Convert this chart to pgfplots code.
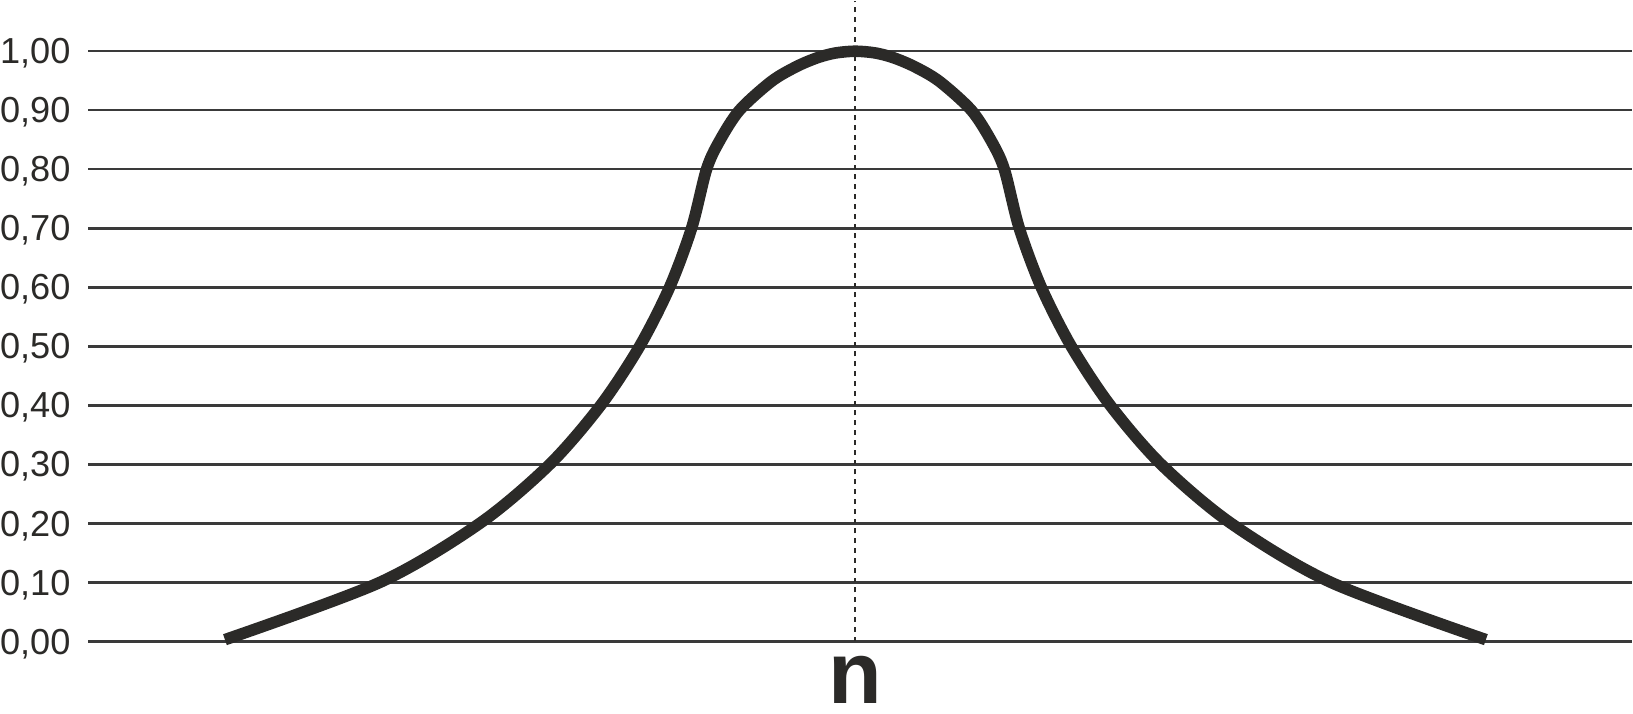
\documentclass[border=0pt]{standalone}
\usepackage{fontspec}
\setmainfont{Liberation Sans}
\usepackage{pgfplots}
\pgfplotsset{compat=1.18}
\definecolor{ink}{HTML}{2B2A28}
\definecolor{gridc}{HTML}{3A3A3A}

\begin{document}
\begin{tikzpicture}
\begin{axis}[
    scale only axis,
    width=154.5mm,
    height=71.3mm,
    xmin=-768, xmax=777,
    ymin=-0.122, ymax=1.085,
    clip=false,
    axis line style={draw=none},
    major tick length=0pt,
    xtick=\empty,
    ytick={0,0.1,...,1.0},
    ymajorgrids,
    grid style={draw=gridc, line width=0.7pt},
    /pgf/number format/.cd, fixed, fixed zerofill, precision=2, use comma,
    assume math mode=true,
    /pgfplots/.cd,
    yticklabel style={anchor=east, inner sep=0pt, xshift=-1.7mm,
        text depth=0pt, font=\fontsize{10.3}{12}\selectfont, text=ink},
]
% dashed centre line
\addplot[draw=ink, line width=0.6pt, dash pattern=on 1.4pt off 1.4pt]
    coordinates {(0,0) (0,1.085)};

% bell curve
\addplot[draw=ink, line width=3.3pt, smooth] coordinates {
    (-631,0.003) (-476,0.100) (-376,0.200) (-306,0.300) (-255,0.400)
    (-216,0.500) (-186,0.600) (-164,0.700) (-149,0.800)
    (-136,0.848) (-116,0.900) (-84,0.949) (-59,0.974) (-38,0.989)
    (-20,0.997) (0,1.000)
    (20,0.997) (38,0.989) (59,0.974) (84,0.949) (116,0.900)
    (136,0.848)
    (149,0.800) (164,0.700) (186,0.600) (216,0.500) (255,0.400)
    (306,0.300) (376,0.200) (476,0.100) (631,0.003)
};

\node[anchor=south, inner sep=0pt, text=ink,
      font=\fontsize{25}{27}\selectfont\bfseries]
    at (axis cs:0,-0.106) {n};
\end{axis}
\end{tikzpicture}
\end{document}
